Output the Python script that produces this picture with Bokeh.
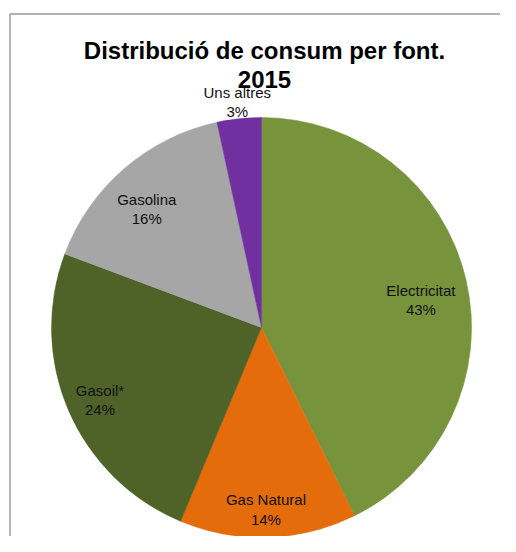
import math
from bokeh.plotting import figure
from bokeh.models import Range1d, ColumnDataSource
from bokeh.core.properties import value
from bokeh.embed import file_html
from bokeh.resources import INLINE

# ---- data ----
categories = ["Electricitat", "Gas Natural", "Gasoil*", "Gasolina", "Uns altres"]
shares = [42.7, 13.6, 24.4, 15.9, 3.4]
colors = ["#77933C", "#E46C0A", "#4F6228", "#A6A6A6", "#7030A0"]
title_lines = ["Distribució de consum per font.", "2015"]

# ---- layout (image pixel coordinates, y measured from top) ----
W, H = 500, 536
cx, cy_img, R = 261, 327, 210
label_r = [0.77, 0.867, 0.843, 0.787, 1.082]
label_nudge_deg = [3.5, 0.4, -0.8, -3.1, 0.0]

def Y(img_y):
    return H - img_y

p = figure(width=W, height=H, output_backend="svg", toolbar_location=None,
           x_range=Range1d(0, W), y_range=Range1d(0, H),
           min_border=0, outline_line_color=None)
p.axis.visible = False
p.grid.visible = False
p.background_fill_color = "white"
p.border_fill_color = "white"

# chart frame: only its top and left edges are inside the window
p.line(x=[9.5, 9.5, W + 30], y=[-30, Y(13.5), Y(13.5)],
       line_color="#9a9a9a", line_width=1.5)

total = sum(shares)
cum = [0.0]
for v in shares:
    cum.append(cum[-1] + v / total)
start = [math.pi / 2 - 2 * math.pi * c for c in cum[:-1]]
end = [math.pi / 2 - 2 * math.pi * c for c in cum[1:]]

src = ColumnDataSource(dict(start=start, end=end, color=colors))
p.wedge(x=cx, y=Y(cy_img), radius=R, start_angle="start", end_angle="end",
        direction="clock", fill_color="color", line_color="color",
        line_width=0.5, source=src)

# data labels
lx, ly, lt = [], [], []
for i, (cat, v) in enumerate(zip(categories, shares)):
    mid = (cum[i] + cum[i + 1]) / 2 * 360 + label_nudge_deg[i]
    a = math.radians(mid)
    r = R * label_r[i]
    lx.append(cx + r * math.sin(a))
    ly.append(Y(cy_img) + r * math.cos(a))
    lt.append(f"{cat}\n{round(v / total * 100)}%")
p.text(x=lx, y=ly, text=lt, text_align="center", text_baseline="middle",
       text_font=value("Liberation Sans"), text_font_size="15px",
       text_line_height=1.12, text_color="#111111")

# title
p.text(x=[264, 264], y=[Y(49.5), Y(78.5)], text=title_lines,
       text_align="center", text_baseline="middle",
       text_font=value("Liberation Sans"), text_font_size="24px",
       text_font_style="bold", text_color="#000000")

open("out.html", "w").write(file_html(p, INLINE))
